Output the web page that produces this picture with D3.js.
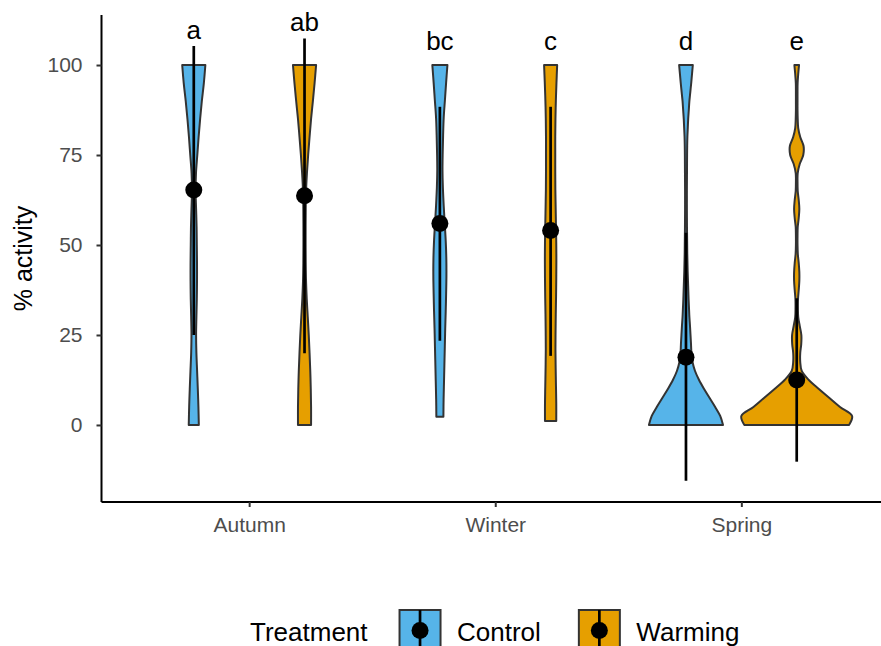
<!DOCTYPE html>
<html>
<head>
<meta charset="utf-8">
<style>
  body { margin: 0; background: #fff; }
  text { font-family: "Liberation Sans", Arial, sans-serif; }
</style>
</head>
<body>
<svg id="chart" width="881" height="646"></svg>
<script src="https://cdnjs.cloudflare.com/ajax/libs/d3/7.8.5/d3.min.js"></script>
<script>
// --- data ---
var seasons = ['Autumn', 'Winter', 'Spring'];
var treatments = ['Control', 'Warming'];
var groupSeason = ['Autumn', 'Autumn', 'Winter', 'Winter', 'Spring', 'Spring'];
var groupTreat = ['Control', 'Warming', 'Control', 'Warming', 'Control', 'Warming'];
var means = [65.3, 63.7, 56.0, 54.0, 18.8, 12.5];
var lower = [25.0, 19.9, 23.4, 19.2, -15.5, -10.2];
var upper = [105.3, 107.4, 88.4, 88.4, 53.4, 35.2];
var letters = ['a', 'ab', 'bc', 'c', 'd', 'e'];
var letterY = [107.1, 109.4, 104.2, 104.2, 104.2, 104.2];
var violinMin = [0, 0, 2.3, 1.1, 0, 0];
var violinMax = [100, 100, 100, 100, 100, 100];
var yTicks = [0, 25, 50, 75, 100];

// scaled kernel densities, evenly spaced from violinMin to violinMax
var densAutumnControl = [5, 4.6, 4, 3.3, 2.6, 2.3, 2.6, 3, 3.2, 3.2, 3, 2.8, 2.3, 1.8, 2.2, 3.5, 4.8, 6.3, 8, 10, 11.5];
var densAutumnWarming = [6.5, 6.5, 6.2, 5.7, 5, 4.2, 3.2, 2.2, 1.5, 1.2, 1.1, 1.1, 1.2, 1.5, 2.4, 3.6, 5, 6.5, 8.3, 10, 11.5];
var densWinterControl = [3.5, 3.7, 4.1, 4.5, 4.9, 5.3, 5.8, 6.2, 6.5, 6.4, 5.8, 4.8, 3.8, 3, 2.6, 2.8, 3.2, 3.8, 5, 6.2, 7.5];
var densWinterWarming = [5.6, 5.6, 5.3, 5, 4.8, 4.9, 5.1, 5.4, 5.6, 5.7, 5.6, 5.3, 5, 4.7, 4.6, 4.6, 4.6, 4.8, 5.2, 5.8, 6.5];
var densSpringControl = [36.8, 34, 29, 23.5, 18, 13, 9, 6.5, 5.4, 5, 4.5, 4, 3.4, 3, 2.6, 2.3, 2, 1.7, 1.5, 1.3,
  1.2, 1.1, 1, 0.95, 0.9, 0.9, 0.9, 0.95, 1, 1.05, 1.1, 1.2, 1.4, 1.8, 2.2, 2.8, 3.4, 4.3, 5.2, 6, 6.8];
var densSpringWarming = [52, 55, 43, 32.5, 22, 12, 5, 3.5, 3.5, 4.5, 4.6, 3, 1.5, 1.2, 1.3, 2, 2.6, 2.6, 2, 1.1,
  0.8, 0.8, 1, 2, 2.6, 2, 1, 0.8, 1, 3, 6.5, 6.8, 3.5, 1.5, 1, 0.8, 0.8, 0.8, 0.9, 1.5, 2.3];
var densities = [densAutumnControl, densAutumnWarming, densWinterControl, densWinterWarming, densSpringControl, densSpringWarming];

var fills = ['#56B4E9', '#E69F00'];

// --- layout ---
var svg = d3.select('#chart');
var panel = { left: 101.5, right: 889, top: 15, bottom: 502 };

var x = d3.scalePoint().domain(seasons).range([panel.left, panel.right]).padding(0.6);
var dodge = d3.scaleBand().domain(treatments).range([-0.45 * x.step(), 0.45 * x.step()]);
var y = d3.scaleLinear().domain([-21.4, 113.9]).range([panel.bottom, panel.top]);
var color = d3.scaleOrdinal().domain(treatments).range(fills);

var maxDens = d3.max(densities, function(d) { return d3.max(d); });
var w = d3.scaleLinear().domain([0, maxDens]).range([0, dodge.bandwidth() / 2]);

function cx(i) {
  return x(groupSeason[i]) + dodge(groupTreat[i]) + dodge.bandwidth() / 2;
}

var groups = d3.range(6);

// violins
var area = d3.area()
  .curve(d3.curveCatmullRom.alpha(0.5))
  .y(function(d) { return y(d.v); });

svg.append('g').selectAll('path').data(groups).enter()
  .append('path')
  .attr('d', function(i) {
    var dens = densities[i];
    var n = dens.length;
    var pts = dens.map(function(d, k) {
      return { v: violinMin[i] + k * (violinMax[i] - violinMin[i]) / (n - 1), d: d };
    });
    var c = cx(i);
    return area
      .x0(function(p) { return c - w(p.d); })
      .x1(function(p) { return c + w(p.d); })(pts);
  })
  .attr('fill', function(i) { return color(groupTreat[i]); })
  .attr('stroke', '#333333')
  .attr('stroke-width', 2)
  .attr('stroke-linejoin', 'round');

// error bars + means
svg.append('g').selectAll('line').data(groups).enter()
  .append('line')
  .attr('x1', cx).attr('x2', cx)
  .attr('y1', function(i) { return y(lower[i]); })
  .attr('y2', function(i) { return y(upper[i]); })
  .attr('stroke', '#000')
  .attr('stroke-width', 2.7);

svg.append('g').selectAll('circle').data(groups).enter()
  .append('circle')
  .attr('cx', cx)
  .attr('cy', function(i) { return y(means[i]); })
  .attr('r', 8.5)
  .attr('fill', '#000');

// significance letters
svg.append('g').selectAll('text').data(groups).enter()
  .append('text')
  .attr('x', cx)
  .attr('y', function(i) { return y(letterY[i]); })
  .attr('text-anchor', 'middle')
  .attr('font-size', 26)
  .attr('fill', '#000')
  .text(function(i) { return letters[i]; });

// axes
var yAxis = svg.append('g').attr('transform', 'translate(' + panel.left + ',0)')
  .call(d3.axisLeft(y).tickValues(yTicks).tickSize(5).tickPadding(14));
var xAxis = svg.append('g').attr('transform', 'translate(0,' + panel.bottom + ')')
  .call(d3.axisBottom(x).tickSize(5).tickPadding(10));

[yAxis, xAxis].forEach(function(ax) {
  ax.select('.domain').attr('stroke', '#000').attr('stroke-width', 2);
  ax.selectAll('.tick line').attr('stroke', '#333333').attr('stroke-width', 2);
  ax.selectAll('.tick text')
    .attr('fill', '#4D4D4D')
    .attr('font-size', 21)
    .attr('font-family', '"Liberation Sans", Arial, sans-serif');
});
yAxis.select('.domain').attr('d', 'M0,' + panel.top + 'V' + panel.bottom);
xAxis.select('.domain').attr('d', 'M' + panel.left + ',0H' + panel.right);

svg.append('text')
  .attr('transform', 'translate(32,' + ((panel.top + panel.bottom) / 2) + ') rotate(-90)')
  .attr('text-anchor', 'middle')
  .attr('font-size', 25)
  .attr('fill', '#000')
  .text('% activity');

// legend
var legY = 610, keySize = 41;
var legend = svg.append('g');
var title = legend.append('text')
  .attr('x', 250).attr('y', 641)
  .attr('font-size', 26)
  .text('Treatment');
var lx = 250 + title.node().getComputedTextLength() + 32;

treatments.forEach(function(t) {
  var g = legend.append('g').attr('transform', 'translate(' + lx + ',' + legY + ')');
  g.append('rect')
    .attr('x', 0).attr('y', 0)
    .attr('width', keySize).attr('height', keySize)
    .attr('fill', color(t))
    .attr('stroke', '#333333')
    .attr('stroke-width', 2);
  g.append('line')
    .attr('x1', keySize / 2).attr('x2', keySize / 2)
    .attr('y1', 0).attr('y2', keySize)
    .attr('stroke', '#000').attr('stroke-width', 2.7);
  g.append('circle')
    .attr('cx', keySize / 2).attr('cy', keySize / 2)
    .attr('r', 8.5).attr('fill', '#000');
  var label = g.append('text')
    .attr('x', keySize + 16.5).attr('y', 31)
    .attr('font-size', 26)
    .text(t);
  lx += keySize + 16.5 + label.node().getComputedTextLength() + 38;
});
</script>
</body>
</html>
